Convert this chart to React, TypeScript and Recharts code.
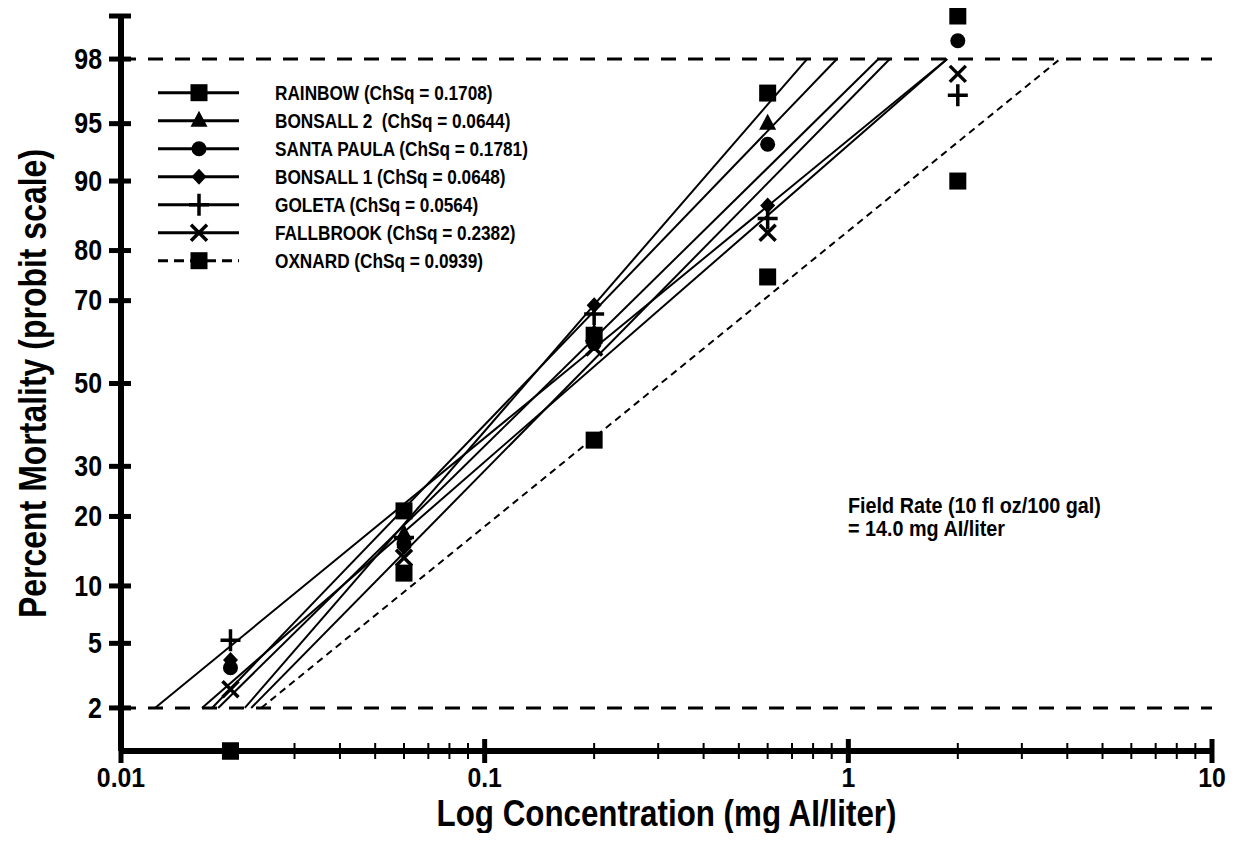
import React from "react";
import { ComposedChart, Scatter, XAxis, YAxis, ReferenceLine } from "recharts";

const FONT = '"Liberation Sans", Arial, sans-serif';

// concentrations tested (mg AI/liter)
const concentrations = [0.02, 0.06, 0.2, 0.6, 2];

// observed percent mortality per population (null = not shown)
const rainbow = [1, 21, 62, 96.7, 99];
const bonsall2 = [null, 17, 62.5, 95, null];
const santaPaula = [3.6, 15.5, 60, 93.5, 98.5];
const bonsall1 = [4, 15, 69, 87, null];
const goleta = [5.2, 16.5, 67, 85.2, 96.6];
const fallbrook = [2.65, 13.5, 59, 83, 97.5];
const oxnard = [1, 11.5, 36, 75, 90];

const populations = ["RAINBOW", "BONSALL 2 ", "SANTA PAULA", "BONSALL 1", "GOLETA", "FALLBROOK", "OXNARD"];
const chiSquares = ["0.1708", "0.0644", "0.1781", "0.0648", "0.0564", "0.2382", "0.0939"];
const markerKinds = ["square", "triangle", "circle", "diamond", "plus", "cross", "square"];
const observed = [rainbow, bonsall2, santaPaula, bonsall1, goleta, fallbrook, oxnard];

// probit regression lines: concentration at 2% and at 98% mortality
const fitLow = [0.0178, 0.0219, 0.0185, 0.0228, 0.0124, 0.0167, 0.0243];
const fitHigh = [0.93, 0.77, 1.21, 1.3, 1.87, 1.87, 3.82];

const yTickPercents = [99, 98, 95, 90, 80, 70, 50, 30, 20, 10, 5, 2];
const yTickLabels = ["", "98", "95", "90", "80", "70", "50", "30", "20", "10", "5", "2"];
const xTicks = [
  0.01, 0.02, 0.03, 0.04, 0.05, 0.06, 0.07, 0.08, 0.09,
  0.1, 0.2, 0.3, 0.4, 0.5, 0.6, 0.7, 0.8, 0.9,
  1, 2, 3, 4, 5, 6, 7, 8, 9, 10,
];
const xTickLabels: Record<string, string> = { "0.01": "0.01", "0.1": "0.1", "1": "1", "10": "10" };

// inverse normal cdf (Acklam)
function probit(p: number): number {
  const a = [-39.69683028665376, 220.9460984245205, -275.9285104469687, 138.357751867269, -30.66479806614716, 2.506628277459239];
  const b = [-54.47609879822406, 161.5858368580409, -155.6989798598866, 66.80131188771972, -13.28068155288572];
  const c = [-0.007784894002430293, -0.3223964580411365, -2.400758277161838, -2.549732539343734, 4.374664141464968, 2.938163982698783];
  const d = [0.007784695709041462, 0.3224671290700398, 2.445134137142996, 3.754408661907416];
  const lo = 0.02425;
  if (p < lo) {
    const q = Math.sqrt(-2 * Math.log(p));
    return (((((c[0] * q + c[1]) * q + c[2]) * q + c[3]) * q + c[4]) * q + c[5]) / ((((d[0] * q + d[1]) * q + d[2]) * q + d[3]) * q + 1);
  }
  if (p > 1 - lo) {
    const q = Math.sqrt(-2 * Math.log(1 - p));
    return -(((((c[0] * q + c[1]) * q + c[2]) * q + c[3]) * q + c[4]) * q + c[5]) / ((((d[0] * q + d[1]) * q + d[2]) * q + d[3]) * q + 1);
  }
  const q = p - 0.5;
  const r = q * q;
  return ((((((a[0] * r + a[1]) * r + a[2]) * r + a[3]) * r + a[4]) * r + a[5]) * q) / (((((b[0] * r + b[1]) * r + b[2]) * r + b[3]) * r + b[4]) * r + 1);
}

const Z2 = probit(0.02);
const Z98 = probit(0.98);

// bold text squeezed sideways, the original uses a narrow face
function NText({ x, y, size, squeeze = 0.82, anchor = "start", rotate = 0, children }: any) {
  return (
    <g transform={`translate(${x} ${y}) rotate(${rotate}) scale(${squeeze} 1)`}>
      <text x={0} y={0} textAnchor={anchor} dominantBaseline="central" fontFamily={FONT} fontWeight="bold" fontSize={size} fill="#000" style={{ whiteSpace: "pre" }}>
        {children}
      </text>
    </g>
  );
}

function Marker({ kind, cx, cy }: { kind: string; cx: number; cy: number }) {
  switch (kind) {
    case "square":
      return <rect x={cx - 8.5} y={cy - 8.5} width={17} height={17} fill="#000" />;
    case "triangle":
      return <polygon points={`${cx},${cy - 10} ${cx + 8.5},${cy + 6} ${cx - 8.5},${cy + 6}`} fill="#000" />;
    case "circle":
      return <circle cx={cx} cy={cy} r={7.5} fill="#000" />;
    case "diamond":
      return <polygon points={`${cx},${cy - 8} ${cx + 7.5},${cy} ${cx},${cy + 8} ${cx - 7.5},${cy}`} fill="#000" />;
    case "plus":
      return <path d={`M${cx - 10},${cy}H${cx + 10}M${cx},${cy - 11}V${cy + 11}`} stroke="#000" strokeWidth={3.5} fill="none" />;
    case "cross":
      return <path d={`M${cx - 8},${cy - 8}L${cx + 8},${cy + 8}M${cx + 8},${cy - 8}L${cx - 8},${cy + 8}`} stroke="#000" strokeWidth={3.5} fill="none" />;
    default:
      return <g />;
  }
}

function XTick(props: any) {
  const { x, y, payload } = props;
  const label = xTickLabels[String(payload.value)];
  const major = label !== undefined;
  return (
    <g>
      <line x1={x} x2={x} y1={y - (major ? 12 : 8)} y2={y + (major ? 12 : 8)} stroke="#000" strokeWidth={major ? 5 : 2} />
      {major && (
        <NText x={x} y={y + 27} size={27} squeeze={0.92} anchor="middle">
          {label}
        </NText>
      )}
    </g>
  );
}

function YTick(props: any) {
  const { x, y, index } = props;
  const label = yTickLabels[index];
  return (
    <g>
      <line x1={x - 12} x2={x + 10} y1={y} y2={y} stroke="#000" strokeWidth={5} />
      {label && (
        <NText x={x - 19} y={y} size={29} squeeze={0.86} anchor="end">
          {label}
        </NText>
      )}
    </g>
  );
}

function LegendBox() {
  return (
    <svg width={420} height={210} style={{ position: "absolute", left: 142, top: 70 }}>
      {populations.map((name, i) => {
        const y = 14.7 + i * 28;
        const dashed = i === 6;
        return (
          <g key={name}>
            <line x1={8} x2={89} y1={y} y2={y} stroke="#000" strokeWidth={3} strokeDasharray={dashed ? "10 6" : undefined} />
            <Marker kind={markerKinds[i]} cx={49} cy={y} />
            <NText x={125} y={y} size={21}>
              {`${name} (ChSq = ${chiSquares[i]})`}
            </NText>
          </g>
        );
      })}
    </svg>
  );
}

function FieldRateNote() {
  return (
    <svg width={320} height={60} style={{ position: "absolute", left: 832, top: 485 }}>
      <NText x={8} y={12} size={22} squeeze={0.9}>
        Field Rate (10 fl oz/100 gal)
      </NText>
      <NText x={8} y={35} size={22} squeeze={0.9}>
        = 14.0 mg AI/liter
      </NText>
    </svg>
  );
}

export default function App() {
  const yTicks = yTickPercents.map((p) => probit(p / 100));
  return (
    <div style={{ position: "relative", width: 1220, height: 825 }}>
      <ComposedChart width={1220} height={825} margin={{ top: 8, right: 16, bottom: 0, left: 0 }}>
        <XAxis
          type="number"
          dataKey="x"
          scale="log"
          domain={[0.01, 10]}
          ticks={xTicks}
          interval={0}
          height={82}
          tickSize={0}
          tickMargin={0}
          tickLine={false}
          axisLine={{ stroke: "#000", strokeWidth: 6 }}
          tick={<XTick />}
          label={{
            content: (p: any) => {
              const vb = p.viewBox;
              return (
                <NText x={vb.x + vb.width / 2} y={vb.y + 62} size={36} squeeze={0.87} anchor="middle">
                  Log Concentration (mg AI/liter)
                </NText>
              );
            },
          }}
        />
        <YAxis
          type="number"
          dataKey="z"
          domain={[probit(0.01), probit(0.99)]}
          ticks={yTicks}
          interval={0}
          width={113}
          tickSize={0}
          tickMargin={0}
          tickLine={false}
          axisLine={{ stroke: "#000", strokeWidth: 6 }}
          tick={<YTick />}
          label={{
            content: (p: any) => {
              const vb = p.viewBox;
              return (
                <NText x={25} y={vb.y + vb.height / 2} size={39} anchor="middle" rotate={-90}>
                  Percent Mortality (probit scale)
                </NText>
              );
            },
          }}
        />
        <ReferenceLine y={Z98} stroke="#000" strokeWidth={3} strokeDasharray="15 12" />
        <ReferenceLine y={Z2} stroke="#000" strokeWidth={3} strokeDasharray="15 12" />
        {populations.map((name, i) => (
          <Scatter
            key={`fit-${name}`}
            name={`fit ${name}`}
            data={[
              { x: fitLow[i], z: Z2 },
              { x: fitHigh[i], z: Z98 },
            ]}
            dataKey="z"
            line={{ stroke: "#000", strokeWidth: 2, strokeDasharray: i === 6 ? "7 5" : undefined }}
            shape={() => <g />}
            isAnimationActive={false}
          />
        ))}
        {populations.map((name, i) => (
          <Scatter
            key={`obs-${name}`}
            name={name}
            data={concentrations
              .map((x, j) => ({ x, v: observed[i][j] }))
              .filter((d) => d.v !== null)
              .map((d) => ({ x: d.x, z: probit((d.v as number) / 100) }))}
            dataKey="z"
            shape={(p: any) => <Marker kind={markerKinds[i]} cx={p.cx} cy={p.cy} />}
            isAnimationActive={false}
          />
        ))}
      </ComposedChart>
      <LegendBox />
      <FieldRateNote />
    </div>
  );
}
